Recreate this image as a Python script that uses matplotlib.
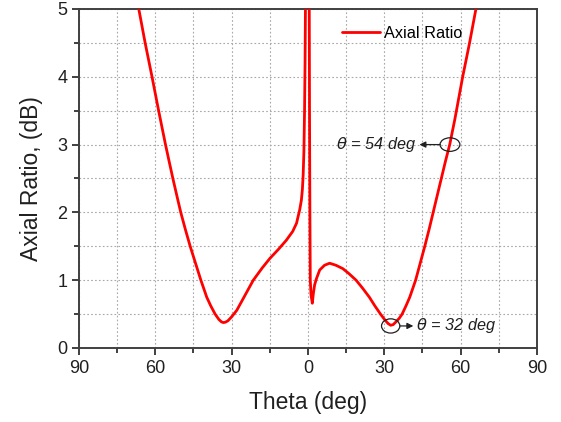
import matplotlib
matplotlib.use("Agg")
import matplotlib.pyplot as plt
from matplotlib.patches import Ellipse
from matplotlib.ticker import MultipleLocator, FuncFormatter

plt.rcParams['font.family'] = ['Liberation Sans', 'DejaVu Sans']

# Axial ratio vs theta (deg); negative theta = left half of plot
theta = [-68.5, -66.5, -64.0, -61.3, -58.7, -56.0, -54.5, -53.1, -51.5, -50.0,
         -48.2, -46.3, -44.2, -42.1, -40.9, -39.8, -38.2, -36.5, -35.0, -34.0,
         -33.3, -32.5, -31.5, -30.0, -28.0, -25.0, -21.5, -18.0, -15.0, -11.5,
         -8.5, -6.0, -4.5, -3.25, -2.6, -2.2, -1.9, -1.6, -1.35, -1.15,
         -1.0, -0.9,
         0.4, 0.5, 0.6, 0.75, 0.9, 1.2, 1.7, 2.1, 2.6, 3.3,
         4.6, 6.5, 8.5, 11.0, 13.7, 16.0, 18.9, 21.5, 24.1, 26.3,
         28.5, 30.3, 31.5, 32.5, 33.5, 34.7, 35.9, 37.0, 38.5, 40.0,
         42.3, 44.1, 45.9, 47.6, 49.2, 50.8, 52.4, 54.0, 55.7, 57.7,
         60.8, 63.5, 66.0, 67.5]
axial_ratio = [5.38, 5.0, 4.5, 4.0, 3.5, 3.0, 2.74, 2.5, 2.24, 2.0,
               1.75, 1.5, 1.25, 1.0, 0.87, 0.75, 0.62, 0.5, 0.42, 0.385,
               0.375, 0.38, 0.40, 0.46, 0.555, 0.76, 1.0, 1.18, 1.32, 1.46,
               1.59, 1.72, 1.84, 2.04, 2.18, 2.34, 2.55, 2.9, 3.5, 4.2,
               5.0, 5.5,
               5.5, 5.0, 3.5, 2.0, 1.0, 0.78, 0.66, 0.8, 0.93, 1.02,
               1.15, 1.22, 1.25, 1.22, 1.17, 1.1, 1.0, 0.88, 0.75, 0.62,
               0.50, 0.41, 0.36, 0.335, 0.345, 0.39, 0.44, 0.5, 0.62, 0.75,
               1.0, 1.25, 1.5, 1.75, 2.0, 2.25, 2.5, 2.75, 3.0, 3.37,
               4.0, 4.5, 5.0, 5.3]

x_ticks = [-90, -60, -30, 0, 30, 60, 90]
y_ticks = [0, 1, 2, 3, 4, 5]

fig = plt.figure(figsize=(5.61, 4.22), dpi=100)
ax = fig.add_axes([0.1408, 0.1754, 0.8164, 0.8033])

ax.plot(theta, axial_ratio, color='#ff0000', lw=2.0, label='Axial Ratio', zorder=3,
        solid_joinstyle='round', solid_capstyle='round')

ax.set_xlim(-90, 90)
ax.set_ylim(0, 5)
ax.set_xticks(x_ticks)
ax.set_yticks(y_ticks)
ax.xaxis.set_minor_locator(MultipleLocator(15))
ax.yaxis.set_minor_locator(MultipleLocator(0.5))
ax.xaxis.set_major_formatter(FuncFormatter(lambda v, p: f"{abs(int(round(v)))}"))
ax.grid(True, which='both', color='#a8a8a8', linestyle=(0, (1.5, 2)), lw=0.8)
ax.set_axisbelow(True)
ax.tick_params(which='both', direction='out', top=False, right=False,
               labelsize=13, colors='#202020', width=1.2)
ax.tick_params(which='major', length=5)
ax.tick_params(which='minor', length=3.5)
for s in ax.spines.values():
    s.set_color('#404040')
    s.set_linewidth(1.4)

ax.set_xlabel('Theta (deg)', fontsize=16.5, color='#202020', labelpad=10)
ax.set_ylabel('Axial Ratio, (dB)', fontsize=16.5, color='#202020', labelpad=10)

ax.legend(loc='center left', bbox_to_anchor=(0.574, 0.929), frameon=False,
          fontsize=11.7, handlelength=2.35, handletextpad=0.25,
          borderpad=0, borderaxespad=0)

# annotations
ax.add_patch(Ellipse((55.8, 3.0), 7.8, 0.2, fill=False, ec='#202020', lw=0.9, zorder=4))
ax.annotate('', xy=(43.8, 3.0), xytext=(52.0, 3.0),
            arrowprops=dict(arrowstyle='-|>', color='#202020', lw=0.9, mutation_scale=9,
                            shrinkA=0, shrinkB=0))
ax.text(42.6, 3.0, r'$\theta$ = 54 deg', fontsize=11.7, style='italic',
        ha='right', va='center', color='#202020')

ax.add_patch(Ellipse((32.5, 0.325), 7.2, 0.21, fill=False, ec='#202020', lw=0.9, zorder=4))
ax.annotate('', xy=(41.4, 0.325), xytext=(36.1, 0.325),
            arrowprops=dict(arrowstyle='-|>', color='#202020', lw=0.9, mutation_scale=9,
                            shrinkA=0, shrinkB=0))
ax.text(42.5, 0.325, r'$\theta$ = 32 deg', fontsize=11.7, style='italic',
        ha='left', va='center', color='#202020')

fig.savefig('out.png', dpi=100)
